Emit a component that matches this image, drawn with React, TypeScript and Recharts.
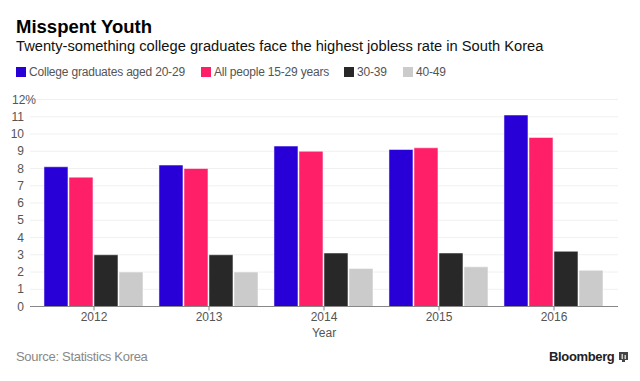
import React from "react";
import { BarChart, Bar, XAxis, YAxis, CartesianGrid } from "recharts";

const years = ["2012", "2013", "2014", "2015", "2016"];
const collegeGrads = [8.1, 8.2, 9.3, 9.1, 11.1];
const allYouth = [7.5, 8.0, 9.0, 9.2, 9.8];
const thirties = [3.0, 3.0, 3.1, 3.1, 3.2];
const forties = [2.0, 2.0, 2.2, 2.3, 2.1];
const yTicks = [0, 1, 2, 3, 4, 5, 6, 7, 8, 9, 10, 11, 12];

const series = [
  { key: "grads", label: "College graduates aged 20-29", color: "#2800d7", x: 16 },
  { key: "youth", label: "All people 15-29 years", color: "#ff1f69", x: 201 },
  { key: "thirties", label: "30-39", color: "#282828", x: 344 },
  { key: "forties", label: "40-49", color: "#cbcbcb", x: 403 },
];

const data = years.map((year, i) => ({
  year,
  grads: collegeGrads[i],
  youth: allYouth[i],
  thirties: thirties[i],
  forties: forties[i],
}));

const FONT = "'Liberation Sans', Arial, Helvetica, sans-serif";

// y labels are right aligned, the top one carries a "%" that hangs past the others
function YTick({ y, payload }: any) {
  const top = payload.value === 12;
  return (
    <text
      x={top ? 12 : 24}
      y={y}
      dy={4}
      fontSize={12}
      fill="#555"
      fontFamily={FONT}
      textAnchor={top ? "start" : "end"}
    >
      {payload.value}
      {top ? "%" : ""}
    </text>
  );
}

export default function App() {
  return (
    <div
      style={{
        position: "absolute",
        left: 0,
        top: 0,
        width: 640,
        height: 381,
        background: "#fff",
        fontFamily: FONT,
        overflow: "hidden",
      }}
    >
      <div style={{ position: "absolute", left: 16, top: 16, fontSize: 18.5, fontWeight: "bold", color: "#000", whiteSpace: "nowrap" }}>
        Misspent Youth
      </div>
      <div style={{ position: "absolute", left: 16, top: 38, fontSize: 14.7, color: "#111", whiteSpace: "nowrap" }}>
        Twenty-something college graduates face the highest jobless rate in South Korea
      </div>
      {series.map((s) => (
        <div
          key={s.key}
          style={{
            position: "absolute",
            left: s.x,
            top: 65,
            height: 14,
            display: "flex",
            alignItems: "center",
            fontSize: 12,
            color: "#555",
            letterSpacing: -0.2,
            whiteSpace: "nowrap",
          }}
        >
          <div style={{ width: 10, height: 10, background: s.color, marginRight: 3 }} />
          <span>{s.label}</span>
        </div>
      ))}

      <div style={{ position: "absolute", left: 0, top: 0 }}>
        <BarChart
          width={640}
          height={381}
          data={data}
          margin={{ top: 99.5, right: 22, bottom: 44.5, left: 0 }}
          barCategoryGap="6.5%"
          barGap={1}
        >
          <CartesianGrid vertical={false} stroke="#f0f0f0" />
          <XAxis
            dataKey="year"
            height={30}
            padding={{ left: 6.5, right: 6.5 }}
            stroke="#888"
            tickLine={{ stroke: "#888" }}
            tickSize={4}
            tick={{ fontSize: 12, fill: "#555", fontFamily: FONT }}
            label={{ value: "Year", position: "insideBottom", offset: 0, fontSize: 12, fill: "#555", fontFamily: FONT }}
          />
          <YAxis
            width={30}
            domain={[0, 12]}
            ticks={yTicks}
            interval={0}
            axisLine={false}
            tickLine={false}
            tick={<YTick />}
          />
          {series.map((s) => (
            <Bar key={s.key} dataKey={s.key} fill={s.color} stroke="#fff" strokeWidth={0.5} isAnimationActive={false} />
          ))}
        </BarChart>
      </div>

      <div style={{ position: "absolute", left: 16, top: 349, fontSize: 13, color: "#888", letterSpacing: -0.3, whiteSpace: "nowrap" }}>
        Source: Statistics Korea
      </div>
      <div
        style={{
          position: "absolute",
          left: 549,
          top: 349,
          fontSize: 13,
          fontWeight: "bold",
          color: "#222",
          letterSpacing: -0.35,
          display: "flex",
          alignItems: "center",
          whiteSpace: "nowrap",
        }}
      >
        Bloomberg
        <svg width={10} height={12} style={{ marginLeft: 5 }}>
          <rect x={0} y={1} width={9} height={8} fill="#444" />
          <rect x={3} y={9} width={3} height={2} fill="#444" />
          <rect x={2.5} y={3} width={1.5} height={5} fill="#ccc" />
          <rect x={5.5} y={4} width={1.5} height={4} fill="#ccc" />
        </svg>
      </div>
    </div>
  );
}
